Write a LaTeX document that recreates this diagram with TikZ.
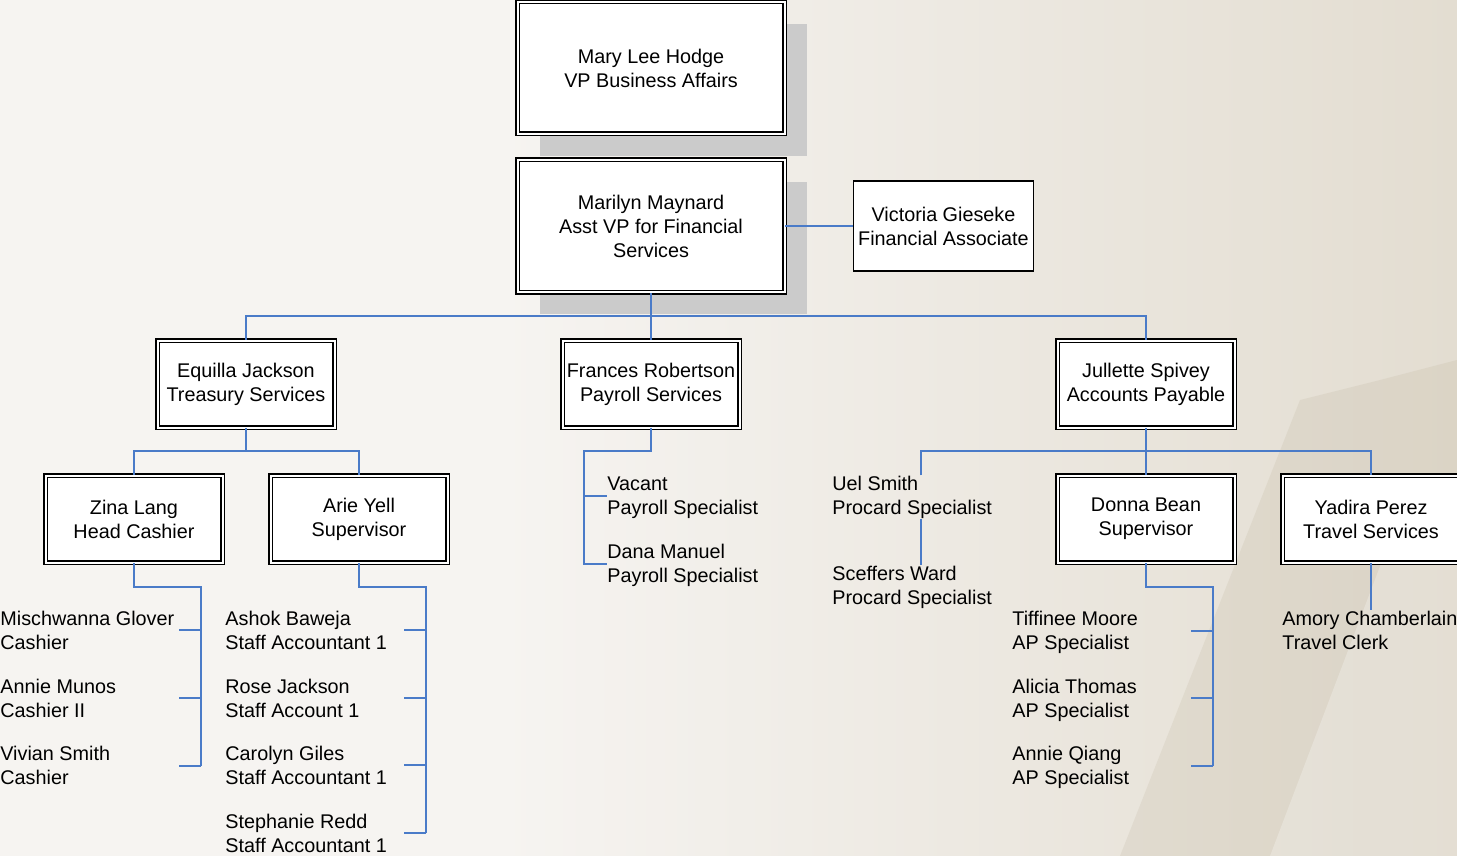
\documentclass[tikz,border=0pt]{standalone}
\usepackage{fontspec}
\setmainfont{Liberation Sans}
\usetikzlibrary{shadows}

\definecolor{linkblue}{HTML}{4A7BC8}
\definecolor{shadowgray}{HTML}{CBCBCB}
\definecolor{paperleft}{HTML}{F6F4F1}
\definecolor{paperright}{HTML}{E3DDD1}
\definecolor{stonedark}{HTML}{B8AD94}

\tikzset{
  chartbox/.style={draw, double, fill=white, line width=0.75pt, double distance=1pt,
    minimum width=88.5pt, minimum height=43.5pt, align=center, inner sep=1pt},
  topbox/.style={chartbox, minimum width=133.5pt, minimum height=66pt,
    general shadow={fill=shadowgray, shadow xshift=11pt, shadow yshift=-11pt}},
  plainbox/.style={draw, fill=white, line width=0.9pt, minimum width=90pt,
    minimum height=45pt, align=center, inner sep=1pt},
  staff/.style={anchor=west, align=left, inner sep=0pt},
  link/.style={draw=linkblue, line width=0.9pt},
}

\begin{document}
\begin{tikzpicture}[x=0.5pt, y=-0.5pt,
    every node/.style={font=\fontsize{9.9pt}{12pt}\selectfont}]
            \useasboundingbox (0,0) rectangle (1457,856);
            % faded photo behind the chart
            \fill[paperleft] (0,0) rectangle (1457,856);
            \shade[left color=paperleft, right color=paperright] (500,0) rectangle (1457,856);
            \fill[stonedark, opacity=0.18] (1120,856) -- (1300,400) -- (1380,380) -- (1457,360) -- (1457,856) -- cycle;
            \fill[white, opacity=0.25] (1270,856) -- (1390,540) -- (1457,560) -- (1457,856) -- cycle;

            % top of the chart
            \node[topbox] (vp) at (651,68) {Mary Lee Hodge\\VP Business Affairs};
            \node[topbox] (asst) at (651,226) {Marilyn Maynard\\Asst VP for Financial\\Services};
            \node[plainbox] (victoria) at (943.5,226) {Victoria Gieseke\\Financial Associate};

            % departments
            \node[chartbox] (equilla) at (246,384) {Equilla Jackson\\Treasury Services};
            \node[chartbox] (frances) at (651,384) {Frances Robertson\\Payroll Services};
            \node[chartbox] (jullette) at (1146,384) {Jullette Spivey\\Accounts Payable};

            \node[chartbox] (zina) at (134,519) {Zina Lang\\Head Cashier};
            \node[chartbox] (arie) at (359,519) {Arie Yell\\Supervisor};
            \node[chartbox] (donna) at (1146,519) {Donna Bean\\Supervisor};
            \node[chartbox] (yadira) at (1371,519) {Yadira Perez\\Travel Services};

            % staff
            \node[staff] (glover) at (0,630) {Mischwanna Glover\\Cashier};
            \node[staff] (munos) at (0,698) {Annie Munos\\Cashier II};
            \node[staff] (vsmith) at (0,765) {Vivian Smith\\Cashier};

            \node[staff] (baweja) at (225,630) {Ashok Baweja\\Staff Accountant 1};
            \node[staff] (rjackson) at (225,698) {Rose Jackson\\Staff Account 1};
            \node[staff] (giles) at (225,765) {Carolyn Giles\\Staff Accountant 1};
            \node[staff] (redd) at (225,833) {Stephanie Redd\\Staff Accountant 1};

            \node[staff] (vacant) at (607,498) {Vacant\\Payroll Specialist};
            \node[staff] (manuel) at (607,565) {Dana Manuel\\Payroll Specialist};

            \node[staff] (uelsmith) at (832,497) {Uel Smith\\Procard Specialist};
            \node[staff] (sceffers) at (832,587) {Sceffers Ward\\Procard Specialist};

            \node[staff] (moore) at (1012,632) {Tiffinee Moore\\AP Specialist};
            \node[staff] (thomas) at (1012,700) {Alicia Thomas\\AP Specialist};
            \node[staff] (qiang) at (1012,767) {Annie Qiang\\AP Specialist};

            \node[staff] (amory) at (1282,630) {Amory Chamberlain\\Travel Clerk};

            % connectors
            \coordinate (bus) at (651,316);
            \draw[link] (asst.east) -- (victoria.west);
            \draw[link] (asst.south) -- (frances.north);
            \draw[link] (equilla.north) |- (bus) -| (jullette.north);

            \coordinate (treasuryfork) at (246,451);
            \draw[link] (equilla.south) -- (treasuryfork);
            \draw[link] (zina.north) |- (treasuryfork) -| (arie.north);

            \coordinate (cashtop) at (201,587);
            \coordinate (cashbot) at (201,766);
            \draw[link] (zina.south) |- (cashtop) -- (cashbot);
            \draw[link] (cashtop |- glover.east) -- ++(-22,0);
            \draw[link] (cashtop |- munos.east) -- ++(-22,0);
            \draw[link] (cashbot) -- ++(-22,0);

            \coordinate (accttop) at (426,587);
            \coordinate (acctbot) at (426,833);
            \draw[link] (arie.south) |- (accttop) -- (acctbot);
            \draw[link] (accttop |- baweja.east) -- ++(-22,0);
            \draw[link] (accttop |- rjackson.east) -- ++(-22,0);
            \draw[link] (accttop |- giles.east) -- ++(-22,0);
            \draw[link] (acctbot) -- ++(-22,0);

            \coordinate (payrolltop) at (584,451);
            \coordinate (payrollbot) at (584,564);
            \draw[link] (frances.south) |- (payrolltop) -- (payrollbot) -- ++(23,0);
            \draw[link] (payrolltop |- 0,496) -- ++(23,0);

            \coordinate (apfork) at (1146,451);
            \coordinate (procardtop) at (921,451);
            \draw[link] (jullette.south) -- (donna.north);
            \draw[link] (uelsmith.north -| procardtop) |- (apfork) -| (yadira.north);
            \draw[link] (uelsmith.south -| procardtop) -- (sceffers.north -| procardtop);
            \draw[link] (yadira.south) -- (amory.north -| yadira.south);

            \coordinate (aptop) at (1213,587);
            \coordinate (apbot) at (1213,766);
            \draw[link] (donna.south) |- (aptop) -- (apbot);
            \draw[link] (aptop |- 0,631) -- ++(-22,0);
            \draw[link] (aptop |- 0,698) -- ++(-22,0);
            \draw[link] (apbot) -- ++(-22,0);
        \end{tikzpicture}
\end{document}
